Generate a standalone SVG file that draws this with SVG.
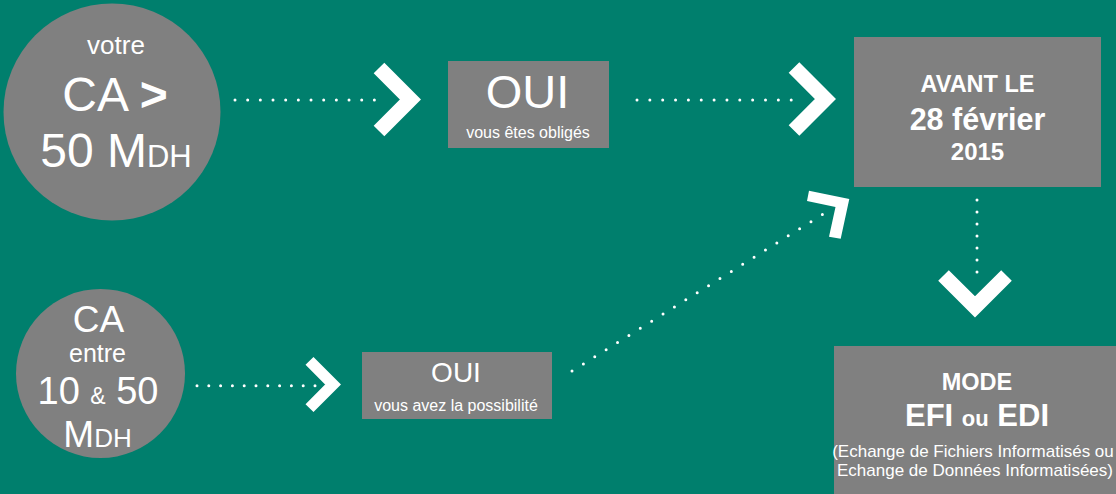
<svg xmlns="http://www.w3.org/2000/svg" width="1116" height="494" viewBox="0 0 1116 494">
<style>
.bg{fill:#007f6d}
.g{fill:#808080}
.t{fill:#fff;font-family:"Liberation Sans",Arial,sans-serif;text-anchor:middle}
.b{font-weight:bold}
.dot{stroke:#fff;stroke-width:3;stroke-linecap:round;fill:none}
.chev{stroke:#fff;stroke-width:15;fill:none;stroke-linejoin:miter;stroke-miterlimit:4}
</style>
<defs>
<path id="chev" class="chev" d="M-42,-31.5 L-10.6,0 L-42,31.5"/>
</defs>
<rect class="bg" x="0" y="0" width="1116" height="494"/>
<g id="connectors">
<line class="dot" x1="235" y1="100" x2="387" y2="100" stroke-dasharray="0 12.67"/>
<line class="dot" x1="637" y1="100" x2="804" y2="100" stroke-dasharray="0 12.85"/>
<line class="dot" x1="197" y1="385.7" x2="315" y2="385.7" stroke-dasharray="0 11.8"/>
<line class="dot" x1="572" y1="371" x2="828" y2="211" stroke-dasharray="0 13.42"/>
<line class="dot" x1="977" y1="200" x2="977" y2="284" stroke-dasharray="0 12"/>
<use href="#chev" transform="translate(421,99.5)"/>
<use href="#chev" transform="translate(836,99)"/>
<use href="#chev" transform="translate(341,384.5) scale(0.75)"/>
<use href="#chev" transform="translate(975,317.5) rotate(90)"/>
<polygon fill="#fff" points="849.3,199 840.7,238.7 829,236.7 835.5,206.9 807,201 809,190.7"/>
</g>
<g id="node-ca50">
<circle class="g" cx="112" cy="112" r="108.5"/>
<text class="t" x="116" y="54" font-size="26">votre</text>
<text class="t" x="115" y="111" font-size="48">CA <tspan class="b">&gt;</tspan></text>
<text class="t" x="116" y="167" font-size="48">50 M<tspan font-size="31">DH</tspan></text>
</g>
<g id="node-ca10">
<circle class="g" cx="100.5" cy="373.5" r="84.5"/>
<text class="t" x="98.5" y="331.5" font-size="37">CA</text>
<text class="t" x="97.5" y="361.5" font-size="25">entre</text>
<text class="t" x="98" y="404" font-size="38">10 <tspan font-size="23">&amp;</tspan> 50</text>
<text class="t" x="97.5" y="447" font-size="37">M<tspan font-size="26">DH</tspan></text>
</g>
<g id="node-oui1">
<rect class="g" x="448" y="61" width="161" height="87"/>
<text class="t" x="527.5" y="108" font-size="47">OUI</text>
<text class="t" x="528" y="138" font-size="16">vous êtes obligés</text>
</g>
<g id="node-oui2">
<rect class="g" x="362" y="352" width="190" height="67"/>
<text class="t" x="456" y="382.3" font-size="28">OUI</text>
<text class="t" x="456" y="410.7" font-size="16">vous avez la possibilité</text>
</g>
<g id="node-avant">
<rect class="g" x="854" y="37" width="247" height="150"/>
<text class="t b" x="977.5" y="91.7" font-size="23.5">AVANT LE</text>
<text class="t b" x="977.5" y="130" font-size="30.5">28 février</text>
<text class="t b" x="977.5" y="160" font-size="24">2015</text>
</g>
<g id="node-mode">
<rect class="g" x="834" y="346" width="282" height="148"/>
<text class="t b" x="977" y="390" font-size="23.5">MODE</text>
<text class="t b" x="977" y="426" font-size="31">EFI <tspan font-size="22">ou</tspan> EDI</text>
<text class="t" x="973" y="457.3" font-size="17">(Echange de Fichiers Informatisés ou</text>
<text class="t" x="975" y="476" font-size="17">Echange de Données Informatisées)</text>
</g>
</svg>
